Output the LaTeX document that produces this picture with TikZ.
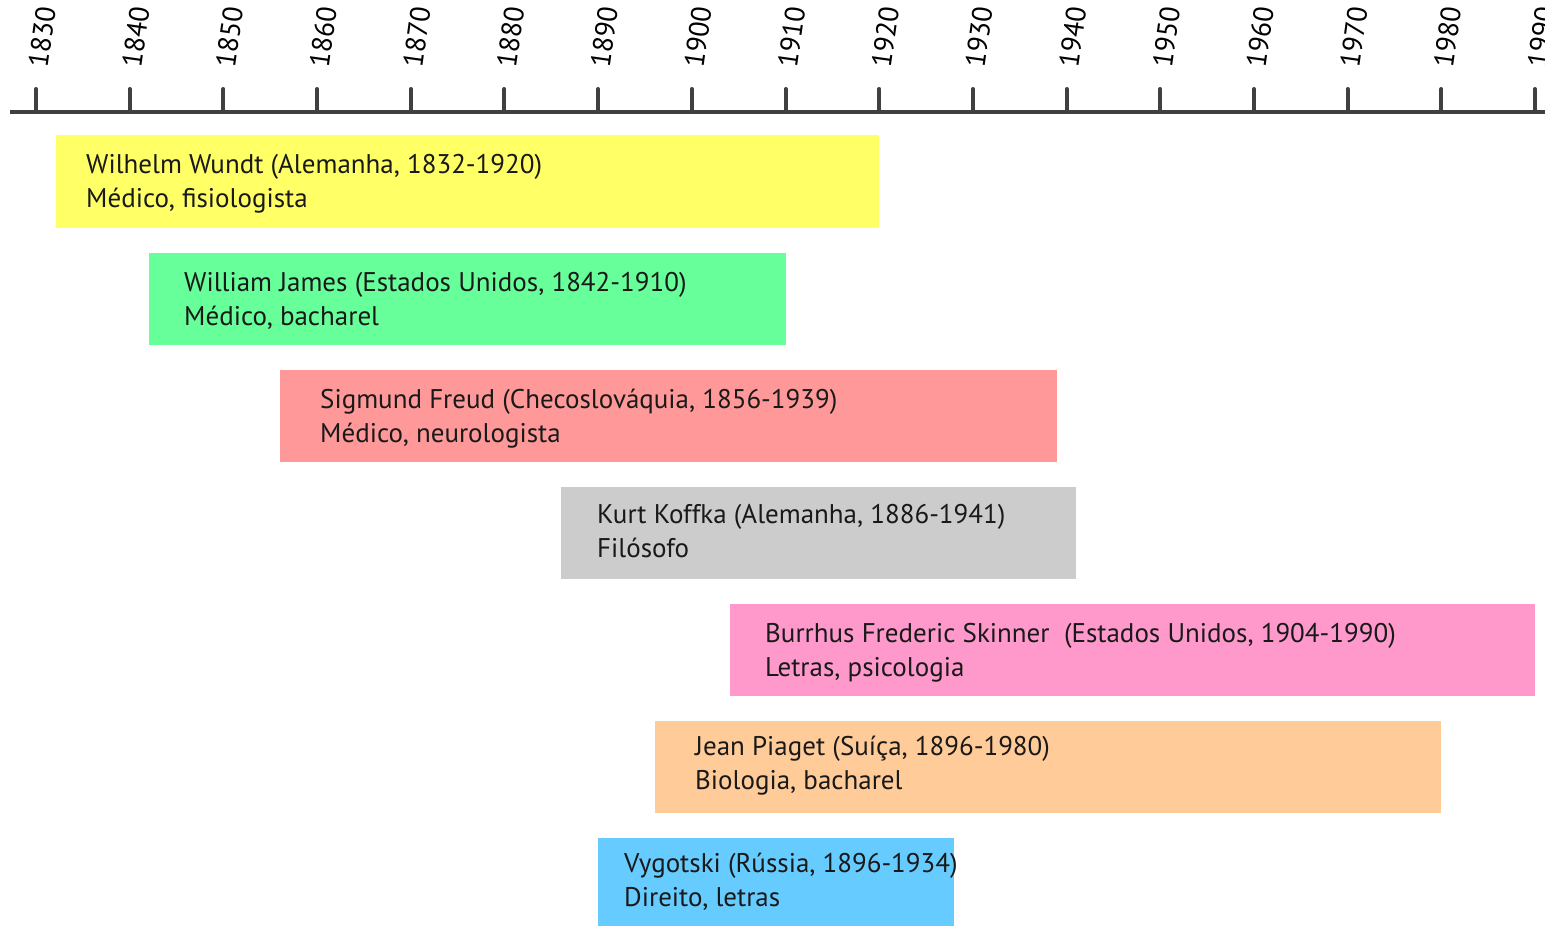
\documentclass[tikz,border=0pt]{standalone}
\usepackage{fontspec}
\setmainfont{PT Sans}
\definecolor{axisgray}{HTML}{404040}
\definecolor{cwundt}{HTML}{FFFF66}
\definecolor{cjames}{HTML}{66FF99}
\definecolor{cfreud}{HTML}{FF9999}
\definecolor{ckoffka}{HTML}{CCCCCC}
\definecolor{cskinner}{HTML}{FF99CC}
\definecolor{cpiaget}{HTML}{FFCC99}
\definecolor{cvygot}{HTML}{66CCFF}
\begin{document}
\begin{tikzpicture}[x=1pt,y=-1pt,
  yearlabel/.style={rotate=82,font=\fontsize{28}{28}\selectfont,text=black,inner sep=0pt},
  tickmark/.style={draw=axisgray,line width=4pt,line cap=round},
  bartext/.style={anchor=base west,align=left,inner sep=0pt,font=\fontsize{27}{33.5}\selectfont,text=black!90}]
\useasboundingbox (0,0) rectangle (1545,926);
\fill[white] (0,0) rectangle (1545,926);
% axis
\coordinate (axL) at (10,112);
\coordinate (axR) at (1545,112);
\draw[draw=axisgray,line width=4pt] (axL) -- (axR);
\foreach \i in {0,...,16}{
  \pgfmathsetmacro{\xx}{36+\i*93.69}
  \pgfmathtruncatemacro{\yr}{1830+10*\i}
  \coordinate (tb\i) at (\xx,112);
  \coordinate (tt\i) at (\xx,89);
  \draw[tickmark] (tb\i) -- (tt\i);
  \node[yearlabel] (yl\i) at (\xx+6,37) {\yr};
}
% bars (text anchored at baseline of second line)
\fill[cwundt] (56,135) rectangle (879,228);
\node[bartext] (wundt) at (86,207) {Wilhelm Wundt (Alemanha, 1832-1920)\\Médico, fisiologista};
\fill[cjames] (149,253) rectangle (786,345);
\node[bartext] (james) at (184,325) {William James (Estados Unidos, 1842-1910)\\Médico, bacharel};
\fill[cfreud] (280,370) rectangle (1057,462);
\node[bartext] (freud) at (320,442) {Sigmund Freud (Checoslováquia, 1856-1939)\\Médico, neurologista};
\fill[ckoffka] (561,487) rectangle (1076,579);
\node[bartext] (koffka) at (597,557) {Kurt Koffka (Alemanha, 1886-1941)\\Filósofo};
\fill[cskinner] (730,604) rectangle (1535,696);
\node[bartext] (skinner) at (765,676) {Burrhus Frederic Skinner\ \ (Estados Unidos, 1904-1990)\\Letras, psicologia};
\fill[cpiaget] (655,721) rectangle (1441,813);
\node[bartext] (piaget) at (695,789) {Jean Piaget (Suíça, 1896-1980)\\Biologia, bacharel};
\fill[cvygot] (598,838) rectangle (954,926);
\node[bartext] (vygot) at (624,906) {Vygotski (Rússia, 1896-1934)\\Direito, letras};
\end{tikzpicture}
\end{document}
